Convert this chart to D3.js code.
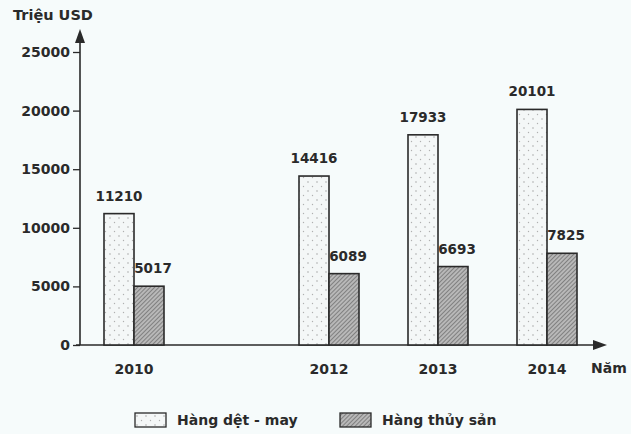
<!DOCTYPE html>
<html lang="vi">
<head>
<meta charset="UTF-8">
<title>chart</title>
<script src="https://cdn.jsdelivr.net/npm/d3@7/dist/d3.min.js"></script>
<style>
  * { margin: 0; padding: 0; }
  body { background: #f6fbfb; }
  svg { display: block; font-family: "DejaVu Sans", sans-serif; font-weight: bold; }
</style>
</head>
<body>
<script>
// du lieu
let years = [2010, 2012, 2013, 2014];
let detMay = [11210, 14416, 17933, 20101];
let thuySan = [5017, 6089, 6693, 7825];
let yTicks = [0, 5000, 10000, 15000, 20000, 25000];
let seriesNames = ["Hàng dệt - may", "Hàng thủy sản"];

let W = 631, H = 434;
let ink = "#2a2a2a";
let barW = 30;

let svg = d3.select("body").append("svg")
  .attr("width", W).attr("height", H);

let defs = svg.append("defs");
// pattern cham cho det may
let dots = defs.append("pattern").attr("id", "dots")
  .attr("patternUnits", "userSpaceOnUse").attr("width", 9).attr("height", 9);
dots.append("rect").attr("width", 9).attr("height", 9).attr("fill", "#f4f7f7");
dots.append("circle").attr("cx", 2).attr("cy", 2).attr("r", 0.7).attr("fill", "#9a9a9a");
dots.append("circle").attr("cx", 6.5).attr("cy", 6.5).attr("r", 0.7).attr("fill", "#b0b0b0");
// pattern gach cheo cho thuy san
let hatch = defs.append("pattern").attr("id", "hatch")
  .attr("patternUnits", "userSpaceOnUse").attr("width", 3).attr("height", 3)
  .attr("patternTransform", "rotate(45)");
hatch.append("rect").attr("width", 3).attr("height", 3).attr("fill", "#b8b8b8");
hatch.append("line").attr("x1", 0).attr("y1", 0).attr("x2", 0).attr("y2", 3)
  .attr("stroke", "#5a5a5a").attr("stroke-width", 1.2);

let y = d3.scaleLinear().domain([0, 25000]).range([345, 52]);
// truc nam khong deu nhu ban ve goc
let x = d3.scaleLinear().domain([2010, 2012, 2014]).range([134, 329, 547]);

// truc y
let yAxis = svg.append("g").attr("transform", "translate(80,0)")
  .call(d3.axisLeft(y).tickValues(yTicks).tickSize(7).tickPadding(3).tickFormat(d3.format("d")));
yAxis.select(".domain").remove();
yAxis.selectAll(".tick line").attr("stroke", ink).attr("stroke-width", 1.3);
yAxis.selectAll("text").attr("fill", ink)
  .style("font-size", "14px").style("font-family", "DejaVu Sans").style("font-weight", "bold");
svg.append("line").attr("x1", 80).attr("x2", 80).attr("y1", 345).attr("y2", 40)
  .attr("stroke", ink).attr("stroke-width", 1.6);
svg.append("path").attr("d", "M80,29 L75,43 L85,43 Z").attr("fill", ink);

// truc x
svg.append("line").attr("x1", 76).attr("x2", 598).attr("y1", y(0)).attr("y2", y(0))
  .attr("stroke", ink).attr("stroke-width", 1.6);
svg.append("path").attr("d", "M607,345 L593,340 L593,350 Z").attr("fill", ink);

svg.append("text").attr("x", 13).attr("y", 20).text("Triệu USD")
  .attr("fill", ink).style("font-size", "14.5px");
svg.append("text").attr("x", 591).attr("y", 373).text("Năm")
  .attr("fill", ink).style("font-size", "14px");

// cot
function drawBars(vals, off, fill, dx) {
  let g = svg.append("g");
  g.selectAll("rect").data(vals).enter().append("rect")
    .attr("x", (d, i) => x(years[i]) + off)
    .attr("y", d => y(d))
    .attr("width", barW)
    .attr("height", d => y(0) - y(d))
    .attr("fill", fill).attr("stroke", ink).attr("stroke-width", 1.6);
  g.selectAll("text").data(vals).enter().append("text")
    .attr("x", (d, i) => x(years[i]) + off + barW / 2 + dx)
    .attr("y", d => y(d) - 13)
    .attr("text-anchor", "middle")
    .attr("fill", ink).style("font-size", "13.5px")
    .text(d => d);
}
drawBars(detMay, -barW, "url(#dots)", 0);
drawBars(thuySan, 0, "url(#hatch)", 4);

svg.append("g").selectAll("text").data(years).enter().append("text")
  .attr("x", d => x(d)).attr("y", 374).attr("text-anchor", "middle")
  .attr("fill", ink).style("font-size", "14px")
  .text(d => d);

// chu giai
let leg = svg.append("g");
let legFills = ["url(#dots)", "url(#hatch)"];
let legX = [135, 340];
seriesNames.forEach(function (name, i) {
  leg.append("rect").attr("x", legX[i]).attr("y", 413).attr("width", 31).attr("height", 14)
    .attr("fill", legFills[i]).attr("stroke", ink).attr("stroke-width", 1.3);
  leg.append("text").attr("x", legX[i] + 42).attr("y", 425).text(name)
    .attr("fill", ink).style("font-size", "14px");
});
</script>
</body>
</html>
